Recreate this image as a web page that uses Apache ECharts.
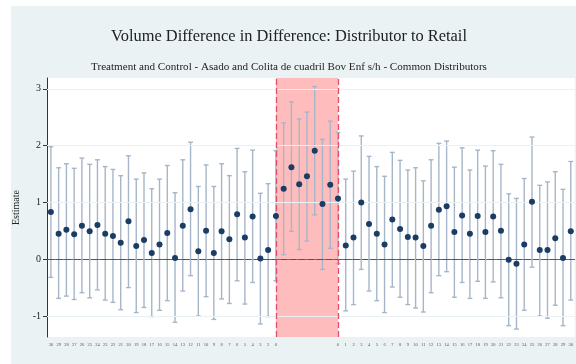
<!DOCTYPE html>
<html>
<head>
<meta charset="utf-8">
<script src="https://cdn.jsdelivr.net/npm/echarts@6/dist/echarts.min.js"></script>
<style>
  html, body { margin: 0; padding: 0; background: #fff; }
  #chart { width: 576px; height: 364px; }
</style>
</head>
<body>
<div id="chart"></div>
<script>
// Event-time tick labels: pre-period, treatment window (unlabelled), post-period
const tickLabels = [
  '30','29','28','27','26','25','24','23','22','21','20','19','18','17','16',
  '15','14','13','12','11','10','9','8','7','6','5','4','3','2','0',
  '','','','','','','',
  '0','1','2','3','4','5','6','7','8','9','10','11','12','13','14','15',
  '16','17','18','19','20','21','22','23','24','25','26','27','28','29','30'
];

// Point estimates
const estimate = [
  0.83, 0.45, 0.52, 0.44, 0.59, 0.49, 0.60, 0.45, 0.41, 0.29,
  0.67, 0.23, 0.34, 0.11, 0.26, 0.46, 0.02, 0.59, 0.88, 0.14,
  0.50, 0.11, 0.49, 0.35, 0.79, 0.38, 0.75, 0.01, 0.16, 0.76,
  1.24, 1.62, 1.32, 1.46, 1.91, 0.97, 1.31,
  1.07, 0.24, 0.38, 1.00, 0.62, 0.45, 0.26, 0.70, 0.53, 0.39,
  0.38, 0.23, 0.59, 0.87, 0.93, 0.48, 0.77, 0.45, 0.76, 0.48,
  0.75, 0.50, -0.01, -0.08, 0.26, 1.01, 0.16, 0.16, 0.37, 0.02, 0.49
];

// Lower bound of the confidence interval
const lower = [
  -0.32, -0.69, -0.65, -0.71, -0.59, -0.68, -0.54, -0.72, -0.76, -0.89,
  -0.50, -0.94, -0.85, -1.01, -0.90, -0.73, -1.11, -0.56, -0.29, -1.00,
  -0.66, -1.06, -0.70, -0.78, -0.38, -0.79, -0.41, -1.14, -1.01, -0.38,
  0.08, 0.49, 0.17, 0.32, 0.78, -0.18, 0.19,
  -0.08, -0.91, -0.80, -0.18, -0.56, -0.73, -0.94, -0.49, -0.67, -0.80,
  -0.86, -0.93, -0.59, -0.29, -0.22, -0.67, -0.41, -0.69, -0.39, -0.69,
  -0.40, -0.68, -1.17, -1.23, -0.90, -0.14, -1.00, -1.04, -0.81, -1.17, -0.72
];

// Upper bound of the confidence interval
const upper = [
  1.98, 1.61, 1.68, 1.60, 1.78, 1.67, 1.75, 1.63, 1.58, 1.47,
  1.82, 1.41, 1.52, 1.24, 1.41, 1.65, 1.17, 1.75, 2.06, 1.28,
  1.66, 1.28, 1.68, 1.47, 1.95, 1.54, 1.92, 1.16, 1.33, 1.91,
  2.40, 2.77, 2.47, 2.59, 3.04, 2.11, 2.43,
  2.23, 1.41, 1.55, 2.17, 1.81, 1.63, 1.46, 1.88, 1.74, 1.57,
  1.61, 1.38, 1.75, 2.04, 2.08, 1.62, 1.96, 1.57, 1.92, 1.64,
  1.91, 1.67, 1.15, 1.07, 1.42, 2.15, 1.30, 1.36, 1.54, 1.23, 1.72
];

// Y tick values
const yTicks = [-1, 0, 1, 2, 3];

// Treatment window boundaries (category positions)
const windowStart = 29;
const windowEnd = 37;

const serif = '"Liberation Serif", "Times New Roman", serif';

const ciData = estimate.map((_, i) => [i, lower[i], upper[i]]);

const chart = echarts.init(document.getElementById('chart'), null, { renderer: 'canvas' });

chart.setOption({
  backgroundColor: '#ffffff',
  animation: false,
  graphic: [{
    type: 'rect',
    z: -10,
    silent: true,
    shape: { x: 11, y: 6, width: 600, height: 400 },
    style: { fill: '#eaf2f3' }
  }],
  title: [{
    text: 'Volume Difference in Difference: Distributor to Retail',
    left: 284, top: 24, textAlign: 'center',
    textStyle: { fontFamily: serif, fontSize: 16.4, fontWeight: 'normal', color: '#222' }
  }, {
    text: 'Treatment and Control - Asado and Colita de cuadril Bov Enf s/h - Common Distributors',
    left: 284, top: 57, textAlign: 'center',
    textStyle: { fontFamily: serif, fontSize: 11.1, fontWeight: 'normal', color: '#222' }
  }],
  grid: {
    left: 47, right: -2.6, top: 78, bottom: 27,
    show: true, backgroundColor: '#ffffff', borderWidth: 0
  },
  xAxis: {
    type: 'category',
    data: tickLabels,
    boundaryGap: true,
    axisLine: { lineStyle: { color: '#666', width: 1 } },
    axisTick: { alignWithLabel: true, interval: 0, length: 3, lineStyle: { color: '#666' } },
    axisLabel: { interval: 0, fontSize: 4.5, fontFamily: serif, color: '#555', margin: 5 },
    splitLine: { show: false }
  },
  yAxis: {
    type: 'value',
    min: -1.37, max: 3.19,
    name: 'Estimate',
    nameLocation: 'middle',
    nameGap: 17,
    nameTextStyle: { fontFamily: serif, fontSize: 10, color: '#222' },
    axisLine: { show: true, lineStyle: { color: '#333', width: 1 } },
    axisTick: { show: true, length: 4, customValues: yTicks, lineStyle: { color: '#333' } },
    axisLabel: { customValues: yTicks, fontFamily: serif, fontSize: 10, color: '#222', margin: 6 },
    splitLine: { show: false }
  },
  series: [{
    type: 'scatter',
    name: 'gridlines',
    data: [],
    silent: true,
    z: 1,
    markLine: {
      silent: true, symbol: 'none', label: { show: false },
      lineStyle: { color: '#eaf1f3', width: 1, type: 'solid' },
      data: [{ yAxis: -1 }, { yAxis: 1 }, { yAxis: 2 }, { yAxis: 3 }]
    }
  }, {
    type: 'scatter',
    name: 'zero',
    data: [],
    silent: true,
    z: 2,
    markLine: {
      silent: true, symbol: 'none', label: { show: false },
      lineStyle: { color: '#555', width: 1.2, type: [6, 3] },
      data: [{ yAxis: 0 }]
    }
  }, {
    type: 'custom',
    name: 'ci',
    z: 3,
    data: ciData,
    encode: { x: 0, y: [1, 2] },
    renderItem: function (params, api) {
      const i = api.value(0);
      const lo = api.coord([i, api.value(1)]);
      const hi = api.coord([i, api.value(2)]);
      const cap = 2.4;
      const style = { stroke: '#a6b6c9', lineWidth: 1.4 };
      return {
        type: 'group',
        children: [
          { type: 'line', shape: { x1: lo[0], y1: lo[1], x2: hi[0], y2: hi[1] }, style: style },
          { type: 'line', shape: { x1: hi[0] - cap, y1: hi[1], x2: hi[0] + cap, y2: hi[1] }, style: style },
          { type: 'line', shape: { x1: lo[0] - cap, y1: lo[1], x2: lo[0] + cap, y2: lo[1] }, style: style }
        ]
      };
    }
  }, {
    type: 'scatter',
    name: 'window',
    data: [],
    silent: true,
    z: 4,
    markArea: {
      silent: true,
      itemStyle: { color: 'rgba(255, 80, 80, 0.38)' },
      data: [[{ xAxis: windowStart }, { xAxis: windowEnd }]]
    },
    markLine: {
      silent: true, symbol: 'none', label: { show: false },
      lineStyle: { color: '#e0506e', width: 1.3, type: [6, 3] },
      data: [{ xAxis: windowStart }, { xAxis: windowEnd }]
    }
  }, {
    type: 'scatter',
    name: 'estimate',
    z: 5,
    data: estimate,
    symbol: 'circle',
    symbolSize: 6,
    itemStyle: { color: '#1b3d64', opacity: 1 }
  }]
});
</script>
</body>
</html>
